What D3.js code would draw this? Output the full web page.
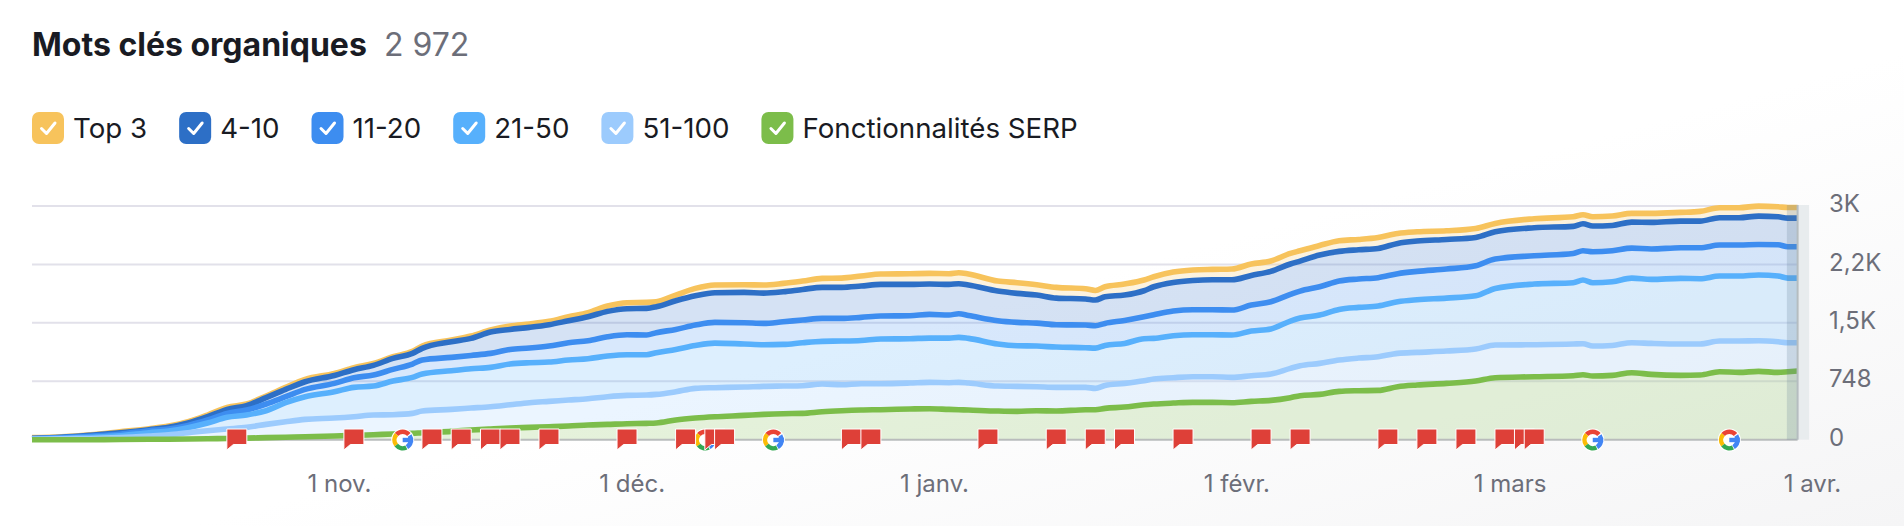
<!DOCTYPE html>
<html lang="fr">
<head>
<meta charset="utf-8">
<title>Mots clés organiques</title>
<script src="https://cdnjs.cloudflare.com/ajax/libs/d3/7.8.5/d3.min.js"></script>
<style>
  html, body { margin: 0; padding: 0; background: #fff; }
  svg { display: block; }
  text { font-family: Inter, "Noto Sans", sans-serif; }
  .axis text { fill: #6c6e79; font-size: 24px; }
</style>
</head>
<body>
<svg id="chart" width="1904" height="526"></svg>
<script>
const dates = ['2024-10-01','2024-10-04','2024-10-07','2024-10-10','2024-10-13','2024-10-15','2024-10-17','2024-10-19','2024-10-21','2024-10-23','2024-10-25','2024-10-27','2024-10-29','2024-11-01','2024-11-03','2024-11-05','2024-11-07','2024-11-09','2024-11-10','2024-11-13','2024-11-15','2024-11-17','2024-11-19','2024-11-21','2024-11-23','2024-11-25','2024-11-27','2024-11-29','2024-12-01','2024-12-03','2024-12-04','2024-12-06','2024-12-08','2024-12-10','2024-12-13','2024-12-15','2024-12-17','2024-12-19','2024-12-21','2024-12-23','2024-12-25','2024-12-27','2024-12-30','2025-01-01','2025-01-03','2025-01-04','2025-01-05','2025-01-08','2025-01-10','2025-01-12','2025-01-14','2025-01-17','2025-01-18','2025-01-19','2025-01-21','2025-01-23','2025-01-24','2025-01-26','2025-01-28','2025-01-30','2025-02-01','2025-02-03','2025-02-05','2025-02-07','2025-02-08','2025-02-10','2025-02-12','2025-02-14','2025-02-16','2025-02-18','2025-02-20','2025-02-23','2025-02-26','2025-02-28','2025-03-04','2025-03-08','2025-03-09','2025-03-10','2025-03-12','2025-03-14','2025-03-16','2025-03-19','2025-03-21','2025-03-23','2025-03-25','2025-03-27','2025-03-29','2025-03-30','2025-03-31'];

// cumulative level of each position range
const top3 = [26,38,64,102,141,175,230,316,414,457,559,670,772,849,922,977,1062,1131,1199,1276,1327,1404,1455,1481,1515,1574,1626,1711,1754,1758,1766,1852,1937,1980,1984,1980,2001,2031,2065,2069,2095,2121,2125,2129,2125,2138,2121,2031,2010,1984,1950,1933,1911,1958,1993,2044,2086,2146,2172,2180,2185,2249,2287,2385,2419,2487,2547,2564,2590,2641,2662,2675,2705,2769,2829,2854,2880,2854,2863,2897,2897,2910,2923,2970,2970,2991,2982,2972,2972];
const pos4to10 = [19,32,58,90,128,158,213,294,388,435,538,644,742,823,896,951,1041,1105,1169,1254,1297,1378,1412,1438,1472,1523,1574,1643,1677,1681,1702,1779,1843,1882,1886,1877,1894,1924,1950,1950,1967,1988,1988,1993,1988,1997,1980,1903,1873,1852,1813,1801,1788,1830,1852,1907,1958,2014,2039,2048,2048,2103,2155,2249,2287,2364,2411,2432,2449,2513,2543,2564,2590,2662,2714,2731,2765,2735,2743,2786,2782,2799,2799,2842,2842,2863,2854,2837,2837];
const pos11to20 = [13,26,45,70,115,137,183,252,337,380,457,550,644,721,794,828,900,969,1020,1054,1079,1105,1156,1173,1199,1242,1267,1318,1344,1340,1370,1412,1468,1502,1498,1489,1510,1532,1553,1553,1566,1583,1587,1604,1596,1613,1591,1523,1502,1493,1472,1468,1459,1489,1527,1574,1600,1647,1664,1664,1660,1724,1766,1860,1903,1958,2031,2057,2074,2125,2155,2185,2227,2313,2355,2385,2419,2406,2419,2453,2441,2458,2458,2492,2492,2500,2496,2470,2470];
const pos21to50 = [10,19,32,51,90,111,154,213,286,316,371,474,550,614,670,687,751,798,841,883,909,926,969,986,994,1020,1037,1071,1088,1088,1114,1156,1207,1237,1225,1216,1220,1242,1259,1263,1271,1289,1293,1301,1301,1310,1297,1225,1203,1199,1186,1178,1173,1207,1233,1293,1297,1331,1344,1344,1340,1391,1417,1519,1557,1596,1668,1694,1711,1766,1792,1813,1843,1937,1993,2010,2044,2010,2022,2069,2052,2065,2061,2095,2095,2108,2095,2069,2069];
const pos51to100 = [6,13,15,26,47,64,90,115,137,158,196,230,260,277,294,316,320,337,367,388,405,422,448,474,491,508,525,550,567,572,580,614,657,666,674,683,687,691,713,704,717,717,725,734,730,734,725,687,683,678,670,670,657,695,721,755,777,794,806,806,798,819,841,913,947,977,1020,1045,1062,1105,1118,1135,1161,1212,1216,1225,1229,1199,1207,1242,1233,1225,1225,1263,1263,1267,1254,1242,1242];
const serpFeatures = [0,0,0,3,5,6,8,12,16,20,26,32,38,47,55,64,73,81,90,107,124,137,149,158,166,175,188,196,205,209,213,252,277,294,311,324,333,337,358,371,380,384,393,397,388,384,380,367,363,371,367,384,384,401,418,448,457,469,478,478,474,491,503,538,563,580,619,627,631,678,700,721,751,794,806,819,832,815,823,858,836,823,828,870,862,875,862,870,879];

const legendLabels = ['Top 3','4-10','11-20','21-50','51-100','Fonctionnalités SERP'];
const legendColors = ['#f7c35c','#2d6fc6','#3d8df0','#57b0fc','#9ccbfd','#7cbd4a'];

const yTickValues = [0,748,1496,2244,2992];
const yTickLabels = ['0','748','1,5K','2,2K','3K'];
const xTickDates = ['2024-11-01','2024-12-01','2025-01-01','2025-02-01','2025-03-01','2025-04-01'];
const xTickLabels = ['1 nov.','1 déc.','1 janv.','1 févr.','1 mars','1 avr.'];

const noteDates = ['2024-10-22','2024-11-03','2024-11-11','2024-11-14','2024-11-17','2024-11-19','2024-11-23','2024-12-01','2024-12-07','2024-12-10','2024-12-11','2024-12-24','2024-12-26','2025-01-07','2025-01-14','2025-01-18','2025-01-21','2025-01-27','2025-02-04','2025-02-08','2025-02-17','2025-02-21','2025-02-25','2025-03-01','2025-03-03','2025-03-04'];
const googleDates = ['2024-11-08','2024-12-09','2024-12-16','2025-03-10','2025-03-24'];

const parseDay = d3.utcParse('%Y-%m-%d');
const svg = d3.select('#chart');

// faint grey wash in the lower right corner
const defs = svg.append('defs');
const wash = defs.append('linearGradient').attr('id', 'wash')
  .attr('x1', 0.55).attr('y1', 0.55).attr('x2', 1).attr('y2', 1);
wash.append('stop').attr('offset', 0).attr('stop-color', '#ffffff');
wash.append('stop').attr('offset', 1).attr('stop-color', '#f5f5f6');
svg.append('rect').attr('width', 1904).attr('height', 526).attr('fill', 'url(#wash)');

const plotLeft = 32, plotRight = 1797.6, plotTop = 206, plotBottom = 439.7;
const x = d3.scaleUtc().domain([parseDay('2024-10-01'), parseDay('2025-03-31')]).range([plotLeft, plotRight]);
const y = d3.scaleLinear().domain([0, 2992]).range([plotBottom, plotTop]);
const days = dates.map(parseDay);

// title
svg.append('text').attr('x', 32).attr('y', 56)
  .attr('font-size', 32).attr('font-weight', 700).attr('fill', '#191b23')
  .text('Mots clés organiques');
svg.append('text').attr('x', 384).attr('y', 56)
  .attr('font-size', 32).attr('fill', '#6c6e79').text('2 972');

// legend, laid out from the measured label widths
let legendX = 32;
legendLabels.forEach((label, i) => {
  const item = svg.append('g').attr('transform', `translate(${legendX},112)`);
  item.append('rect').attr('width', 32).attr('height', 32).attr('rx', 7).attr('fill', legendColors[i]);
  item.append('path').attr('d', 'M9.5 16.5l5 5 8.5-10.5').attr('fill', 'none')
    .attr('stroke', '#fff').attr('stroke-width', 3).attr('stroke-linecap', 'round').attr('stroke-linejoin', 'round');
  const text = item.append('text').attr('x', 41).attr('y', 25.5)
    .attr('font-size', 27.7).attr('fill', '#191b23').text(label);
  legendX += 41 + text.node().getComputedTextLength() + 32;
});

// grid
svg.append('g').selectAll('line').data(yTickValues.slice(1)).join('line')
  .attr('x1', plotLeft).attr('x2', plotRight).attr('y1', d => y(d)).attr('y2', d => y(d))
  .attr('stroke', '#e2e1ea').attr('stroke-width', 2);

// bands between consecutive levels
const lineSeries = [top3, pos4to10, pos11to20, pos21to50, pos51to100, serpFeatures];
const zeros = dates.map(() => 0);
const lowerSeries = [pos4to10, pos11to20, pos21to50, pos51to100, serpFeatures, zeros];
const curve = d3.curveMonotoneX;

lineSeries.forEach((series, i) => {
  const area = d3.area().curve(curve)
    .x((d, j) => x(days[j]))
    .y0((d, j) => y(lowerSeries[i][j]))
    .y1(d => y(d));
  svg.append('path').attr('d', area(series)).attr('fill', legendColors[i]).attr('fill-opacity', 0.2);
});

// light strip after the last day, then the axis baseline
svg.append('rect').attr('x', plotRight).attr('y', plotTop - 1).attr('width', 11.5).attr('height', plotBottom - plotTop + 1).attr('fill', '#e8ecee');
svg.append('line').attr('x1', plotLeft).attr('x2', plotRight).attr('y1', plotBottom).attr('y2', plotBottom)
  .attr('stroke', '#b9bcbc').attr('stroke-width', 2);

// lines, lower ranges painted over higher ones
lineSeries.forEach((series, i) => {
  const line = d3.line().curve(curve).x((d, j) => x(days[j])).y(d => y(d));
  svg.append('path').attr('d', line(series)).attr('fill', 'none')
    .attr('stroke', legendColors[i]).attr('stroke-width', 5.6).attr('stroke-linejoin', 'round');
});

// current (partial) day highlight
svg.append('rect').attr('x', x(parseDay('2025-03-30')) - 1).attr('y', plotTop - 1)
  .attr('width', plotRight - x(parseDay('2025-03-30')) + 1).attr('height', plotBottom - plotTop + 1)
  .attr('fill', '#5f7a90').attr('fill-opacity', 0.22);
svg.append('line').attr('x1', plotRight).attr('x2', plotRight).attr('y1', plotTop - 1).attr('y2', plotBottom)
  .attr('stroke', '#b5bdc0').attr('stroke-width', 2);

// axes
const xAxis = d3.axisBottom(x)
  .tickValues(xTickDates.map(parseDay))
  .tickSize(0)
  .tickFormat((d, i) => xTickLabels[i]);
svg.append('g').attr('class', 'axis').attr('transform', `translate(4.6,${plotBottom})`).call(xAxis)
  .call(g => g.select('.domain').remove())
  .selectAll('text').attr('y', 52).attr('dy', 0);

const yAxis = d3.axisRight(y)
  .tickValues(yTickValues)
  .tickSize(0)
  .tickFormat((d, i) => yTickLabels[i]);
svg.append('g').attr('class', 'axis').attr('transform', `translate(1829,-2)`).call(yAxis)
  .call(g => g.select('.domain').remove())
  .selectAll('text').attr('x', 0);

// google update markers
const googleArc = d3.arc().innerRadius(6).outerRadius(10.5);
const googleParts = [
  {start: -0.85, end: 0.85, fill: '#ea4335'},
  {start: -2.25, end: -0.85, fill: '#fbbc05'},
  {start: -3.6, end: -2.25, fill: '#34a853'},
  {start: 1.0, end: 2.6, fill: '#4285f4'}
];
googleDates.map(parseDay).forEach(d => {
  const g = svg.append('g').attr('transform', `translate(${x(d)},440)`);
  g.append('circle').attr('r', 11.5).attr('fill', '#fff');
  googleParts.forEach(p => {
    g.append('path').attr('d', googleArc({startAngle: p.start, endAngle: p.end})).attr('fill', p.fill);
  });
  g.append('rect').attr('x', 0).attr('y', -2.2).attr('width', 10.5).attr('height', 4.4).attr('fill', '#4285f4');
});

// note flags
svg.append('g').selectAll('path').data(noteDates.map(parseDay)).join('path')
  .attr('transform', d => `translate(${x(d) - 10},429)`)
  .attr('d', 'M0 0H20V15.5H6.5L0 21Z')
  .attr('fill', '#de4038').attr('stroke', '#fff').attr('stroke-width', 1);
</script>
</body>
</html>
